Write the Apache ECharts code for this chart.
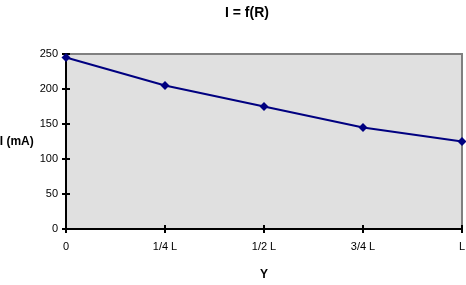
<!DOCTYPE html>
<html>
<head>
<meta charset="utf-8">
<script src="https://cdn.jsdelivr.net/npm/echarts@6/dist/echarts.min.js"></script>
<style>html,body{margin:0;padding:0;background:#fff}#c{width:466px;height:285px}</style>
</head>
<body>
<div id="c"></div>
<script>
const categories = ['0', '1/4 L', '1/2 L', '3/4 L', 'L'];
const values = [245, 205, 175, 145, 125];
const yTicks = [0, 50, 100, 150, 200, 250];

const chart = echarts.init(document.getElementById('c'), null, {renderer: 'canvas'});
const font = 'Liberation Sans, Arial, sans-serif';
const tickStyle = {color: '#000', width: 2};
chart.setOption({
  animation: false,
  title: {
    text: 'I = f(R)', left: 242, top: 1, textAlign: 'center',
    textStyle: {fontFamily: font, fontSize: 14, fontWeight: 'bold', color: '#000'}
  },
  grid: {
    left: 66, right: 4, top: 54, bottom: 56, show: true,
    containLabel: false, outerBoundsMode: 'none',
    backgroundColor: '#e0e0e0', borderColor: '#808080', borderWidth: 2
  },
  xAxis: [{
    type: 'category', data: categories, boundaryGap: false,
    name: 'Y', nameLocation: 'middle', nameGap: 40,
    nameTextStyle: {fontFamily: font, fontSize: 12, fontWeight: 'bold', color: '#000'},
    axisLine: {lineStyle: {color: '#000', width: 2}},
    axisTick: {show: true, length: 4, lineStyle: tickStyle, alignWithLabel: true},
    axisLabel: {fontFamily: font, fontSize: 11, color: '#000', margin: 12, showMinLabel: true, showMaxLabel: true},
    splitLine: {show: false}
  }, {
    type: 'category', data: categories, boundaryGap: false, position: 'bottom',
    axisLine: {show: false},
    axisTick: {show: true, inside: true, length: 4, lineStyle: tickStyle},
    axisLabel: {show: false}, splitLine: {show: false}
  }],
  yAxis: [{
    type: 'value', min: yTicks[0], max: yTicks[yTicks.length - 1], interval: 50,
    name: 'I (mA)', nameLocation: 'middle', nameGap: 28, nameRotate: 0,
    nameTextStyle: {fontFamily: font, fontSize: 12, fontWeight: 'bold', color: '#000'},
    axisLine: {show: true, lineStyle: {color: '#000', width: 2}},
    axisTick: {show: true, length: 4, lineStyle: tickStyle},
    axisLabel: {fontFamily: font, fontSize: 11, color: '#000', margin: 8},
    splitLine: {show: false}
  }, {
    type: 'value', min: yTicks[0], max: yTicks[yTicks.length - 1], interval: 50, position: 'left',
    axisLine: {show: false},
    axisTick: {show: true, inside: true, length: 4, lineStyle: tickStyle},
    axisLabel: {show: false}, splitLine: {show: false}
  }],
  series: [{
    type: 'line', data: values, xAxisIndex: 0, yAxisIndex: 0,
    symbol: 'diamond', symbolSize: 9,
    lineStyle: {color: '#000080', width: 2},
    itemStyle: {color: '#000080'}
  }]
});
</script>
</body>
</html>
